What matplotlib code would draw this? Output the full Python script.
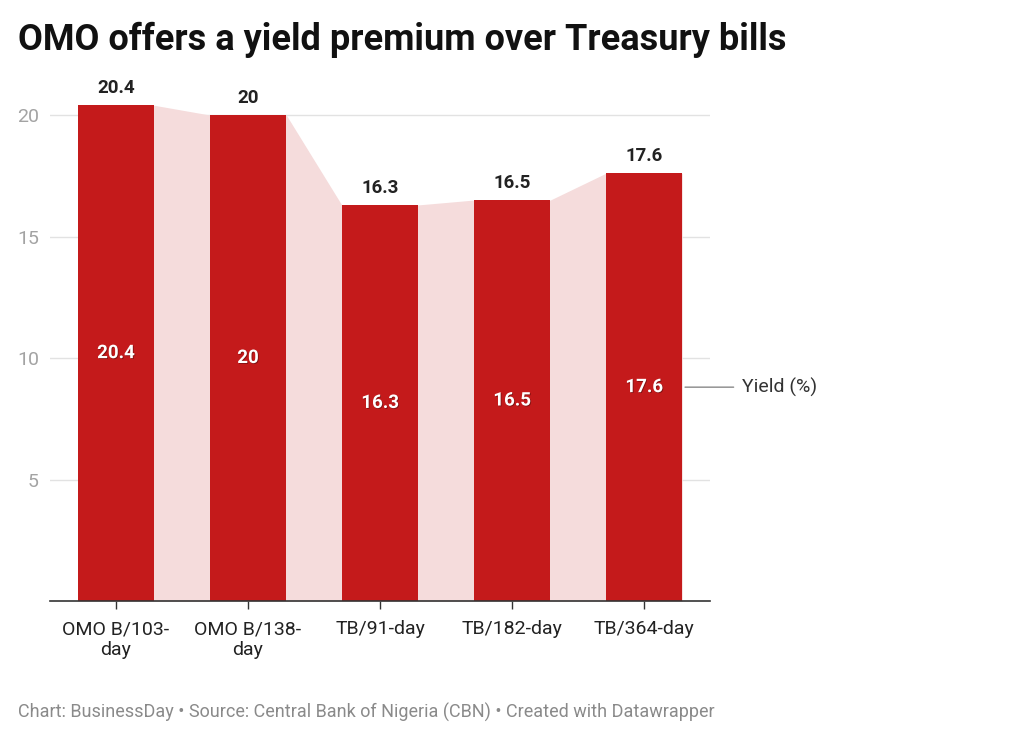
import matplotlib
matplotlib.use("Agg")
import matplotlib.pyplot as plt
import matplotlib.patheffects as pe

categories = ["OMO B/103-\nday", "OMO B/138-\nday", "TB/91-day", "TB/182-day", "TB/364-day"]
yields = [20.4, 20.0, 16.3, 16.5, 17.6]
value_labels = ["20.4", "20", "16.3", "16.5", "17.6"]
yticks = [5, 10, 15, 20]
series_name = "Yield (%)"

plt.rcParams['font.family'] = ['Roboto', 'DejaVu Sans']

BAR = "#c41a1b"
FILL = "#f5dcdc"
W = 0.58

fig = plt.figure(figsize=(10.24, 7.4), dpi=100)
ax = fig.add_axes([50/1024, 1-601/740, 660/1024, (21*24.3)/740])
x = list(range(len(categories)))

# area behind bars
ax_x, ax_y = [], []
for xi, v in zip(x, yields):
    ax_x += [xi - W/2, xi + W/2]
    ax_y += [v, v]
ax.fill_between(ax_x, ax_y, 0, color=FILL, lw=0, zorder=1)

ax.bar(x, yields, width=W, color=BAR, zorder=2)

for xi, v, lab in zip(x, yields, value_labels):
    ax.annotate(lab, (xi, v), xytext=(0, 6), textcoords="offset points",
                ha="center", va="bottom", fontsize=13.5, fontweight="bold",
                color="#222222", zorder=4)
    ax.text(xi, v/2, lab, ha="center", va="center", fontsize=13.5,
            fontweight="bold", color="white", zorder=4,
            path_effects=[pe.withSimplePatchShadow(offset=(0.6, -0.6), shadow_rgbFace="#000000", alpha=0.35)])

ax.set_xlim(-0.5, len(categories) - 0.5)
ax.set_ylim(0, 21)
ax.set_yticks(yticks)
ax.set_yticklabels([str(t) for t in yticks])
ax.grid(axis="y", color="#e2e2e2", lw=1, zorder=0)
ax.set_axisbelow(True)
for s in ["top", "right", "left"]:
    ax.spines[s].set_visible(False)
ax.spines["bottom"].set_color("#333333")
ax.spines["bottom"].set_linewidth(1.2)
ax.tick_params(axis="y", length=0, labelsize=14, labelcolor="#a3a3a3", pad=8)
ax.tick_params(axis="x", length=6, width=1, color="#333333", labelsize=14, labelcolor="#222222", pad=8)
ax.set_xticks(x)
ax.set_xticklabels(categories, linespacing=1.2)

# series label
last = len(yields) - 1
ax.annotate("", xy=(last + W/2, yields[last]/2), xytext=(last + W/2 + 0.41, yields[last]/2),
            arrowprops=dict(arrowstyle="-", color="#888888", lw=1), annotation_clip=False)
ax.text(last + W/2 + 0.45, yields[last]/2, series_name, ha="left", va="center",
        fontsize=14, color="#333333", clip_on=False)

fig.text(18/1024, 1-40/740, "OMO offers a yield premium over Treasury bills",
         fontsize=26, fontweight="bold", color="#111111", ha="left", va="center")
fig.text(18/1024, 1-712/740,
         "Chart: BusinessDay \u2022 Source: Central Bank of Nigeria (CBN) \u2022 Created with Datawrapper",
         fontsize=13, color="#8a8a8a", ha="left", va="center")

fig.savefig("out.png", dpi=100)
